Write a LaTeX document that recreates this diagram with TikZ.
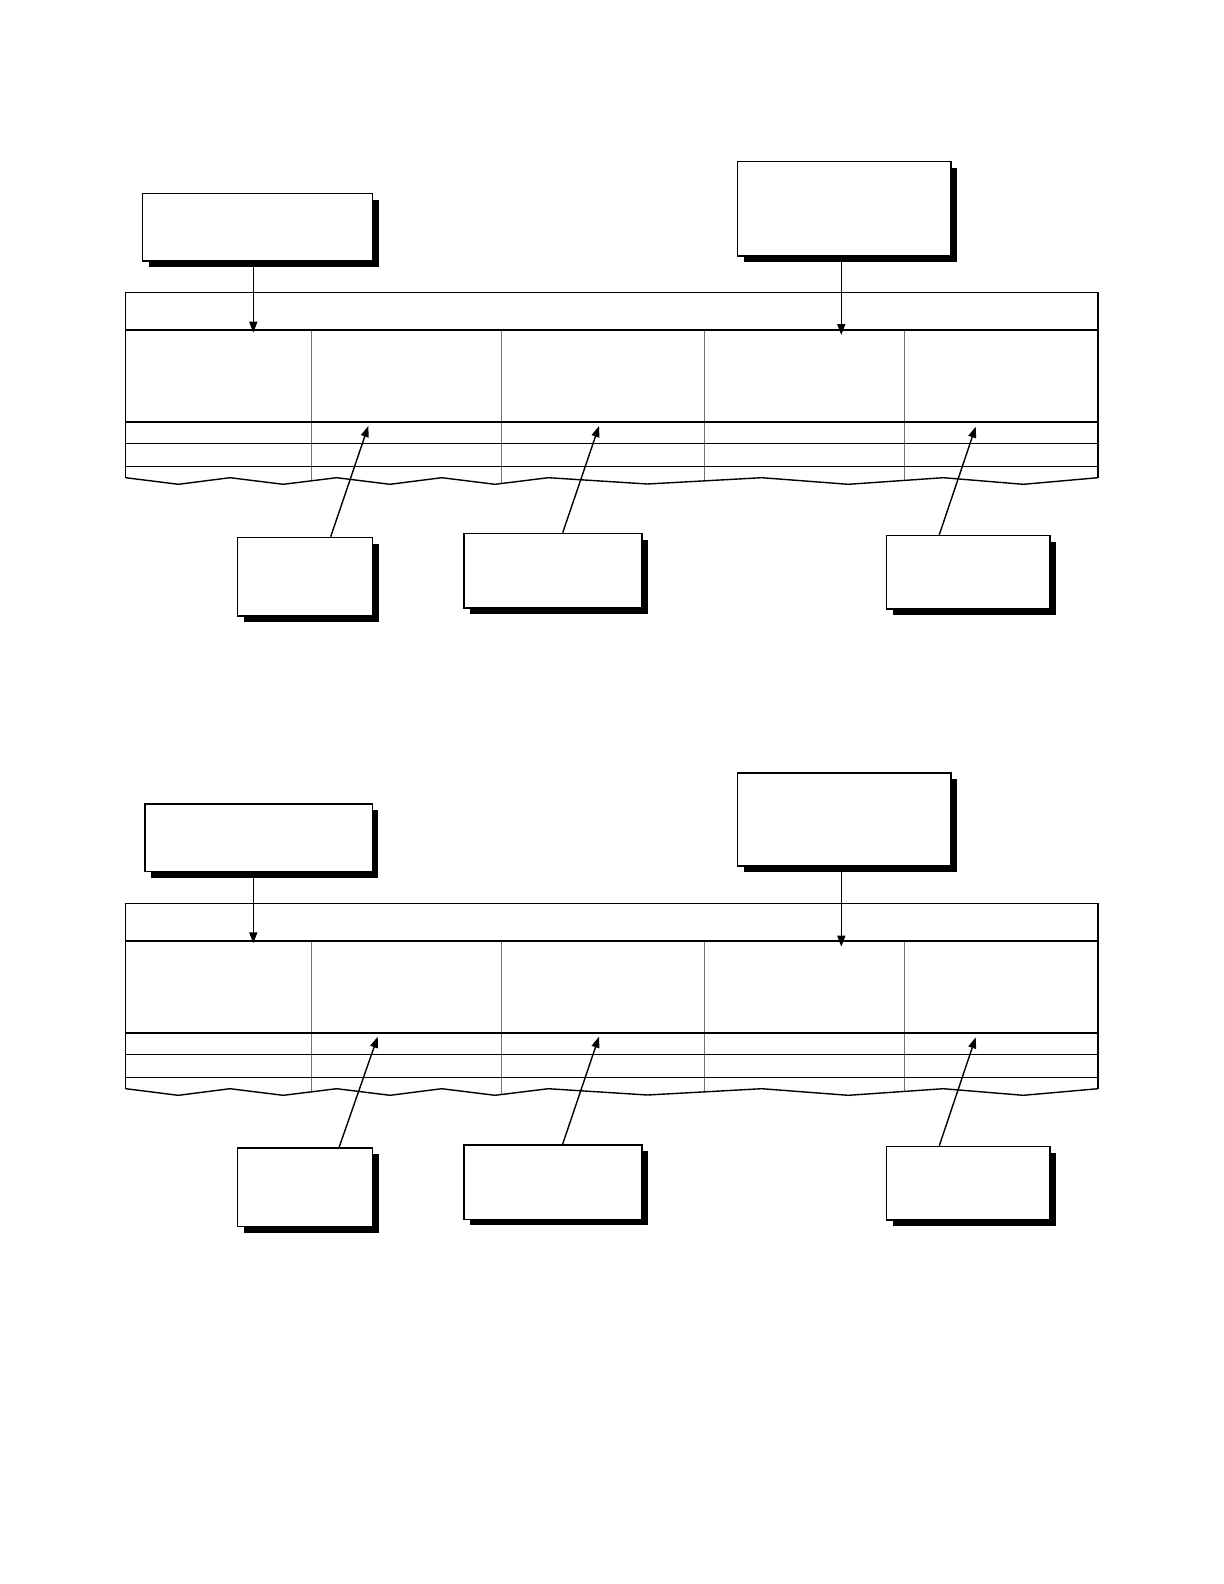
\documentclass[tikz,border=0pt]{standalone}
\usetikzlibrary{arrows.meta,shadows}
\tikzset{
	callout/.style={draw, fill=white, line width=0.8pt, inner sep=0pt, anchor=north west,
		general shadow={fill=black, shadow xshift=3pt, shadow yshift=-3pt}},
	pointer/.style={line width=0.7pt, -{Triangle[length=5.5pt,width=4pt]}},
	rowline/.style={line width=0.5pt},
	colline/.style={line width=0.45pt, black!55}
}
\begin{document}
\begin{tikzpicture}[x=0.5pt,y=-0.5pt]
\useasboundingbox (0,0) rectangle (1224,1584);
% upper form
\draw[colline] (311.5,330) -- (311.5,480.8) (501.5,330) -- (501.5,483.5)
	(704.3,330) -- (704.3,480.9) (904.3,330) -- (904.3,480.4);
\draw[line width=0.7pt] (125.7,477.7) -- (125.7,292.7) -- (1098,292.7) -- (1098,477.7);
\draw[line width=1pt] (125.7,330) -- (1098,330);
\draw[line width=0.8pt] (125.7,421.7) -- (1098,421.7);
\draw[rowline] (125.7,443.3) -- (1098,443.3) (125.7,466.3) -- (1098,466.3);
\draw[line width=0.7pt] (125.7,477.7) -- (178.3,484.3) -- (230,477.7) -- (283.3,484.3) -- (336.7,477.7)
	-- (390,484.3) -- (441.7,477.7) -- (495,484.3) -- (548.3,477.7) -- (647.5,484)
	-- (761.7,477.7) -- (848.3,484.3) -- (943.3,477.7) -- (1023.3,484.3) -- (1098,477.7);
\node[callout, minimum width=115pt, minimum height=33.6pt] (boxA) at (141.7,192.7) {};
\node[callout, minimum width=106.6pt, minimum height=47.2pt] (boxB) at (736.7,160.7) {};
\node[callout, minimum width=67.5pt, minimum height=39.2pt] (boxC) at (236.7,536.7) {};
\node[callout, minimum width=88.8pt, minimum height=37.3pt] (boxD) at (463.3,532.7) {};
\node[callout, minimum width=81.6pt, minimum height=36.8pt] (boxE) at (885.7,534.7) {};
\coordinate (tipA) at (253.3,332.7);
\coordinate (tipB) at (841.3,335);
\coordinate (tipC) at (368.3,426);
\coordinate (tipD) at (599,426);
\coordinate (tipE) at (975.7,426.7);
\draw[pointer] (boxA.south -| tipA) -- (tipA);
\draw[pointer] (boxB.south -| tipB) -- (tipB);
\draw[pointer] ([xshift=47pt]boxC.north west) -- (tipC);
\draw[pointer] ([xshift=49.7pt]boxD.north west) -- (tipD);
\draw[pointer] ([xshift=26.8pt]boxE.north west) -- (tipE);
% lower form
\begin{scope}[yshift=-305.5pt]
\draw[colline] (311.5,330) -- (311.5,480.8) (501.5,330) -- (501.5,483.5)
	(704.3,330) -- (704.3,480.9) (904.3,330) -- (904.3,480.4);
\draw[line width=0.6pt] (125.7,477.7) -- (125.7,292.7) -- (1098,292.7) -- (1098,477.7);
\draw[line width=1pt] (125.7,330) -- (1098,330);
\draw[line width=0.8pt] (125.7,421.7) -- (1098,421.7);
\draw[rowline] (125.7,443.3) -- (1098,443.3) (125.7,466.3) -- (1098,466.3);
\draw[line width=0.7pt] (125.7,477.7) -- (178.3,484.3) -- (230,477.7) -- (283.3,484.3) -- (336.7,477.7)
	-- (390,484.3) -- (441.7,477.7) -- (495,484.3) -- (548.3,477.7) -- (647.5,484)
	-- (761.7,477.7) -- (848.3,484.3) -- (943.3,477.7) -- (1023.3,484.3) -- (1098,477.7);
\node[callout, minimum width=113.8pt, minimum height=33.7pt] (boxA2) at (144,192.3) {};
\node[callout, minimum width=106.6pt, minimum height=46.5pt] (boxB2) at (736.7,161) {};
\node[callout, minimum width=67.5pt, minimum height=39.2pt] (boxC2) at (236.7,536.3) {};
\node[callout, minimum width=88.8pt, minimum height=37.3pt] (boxD2) at (463.3,533) {};
\node[callout, minimum width=81.6pt, minimum height=36.8pt] (boxE2) at (885.7,534.7) {};
\coordinate (tipA2) at (253.3,332.3);
\coordinate (tipB2) at (841.3,335.7);
\coordinate (tipC2) at (377.7,425.7);
\coordinate (tipD2) at (599,425.7);
\coordinate (tipE2) at (975.7,426.3);
\draw[pointer] (boxA2.south -| tipA2) -- (tipA2);
\draw[pointer] (boxB2.south -| tipB2) -- (tipB2);
\draw[pointer] ([xshift=51.2pt]boxC2.north west) -- (tipC2);
\draw[pointer] ([xshift=49.7pt]boxD2.north west) -- (tipD2);
\draw[pointer] ([xshift=26.8pt]boxE2.north west) -- (tipE2);
\end{scope}
\end{tikzpicture}
\end{document}
